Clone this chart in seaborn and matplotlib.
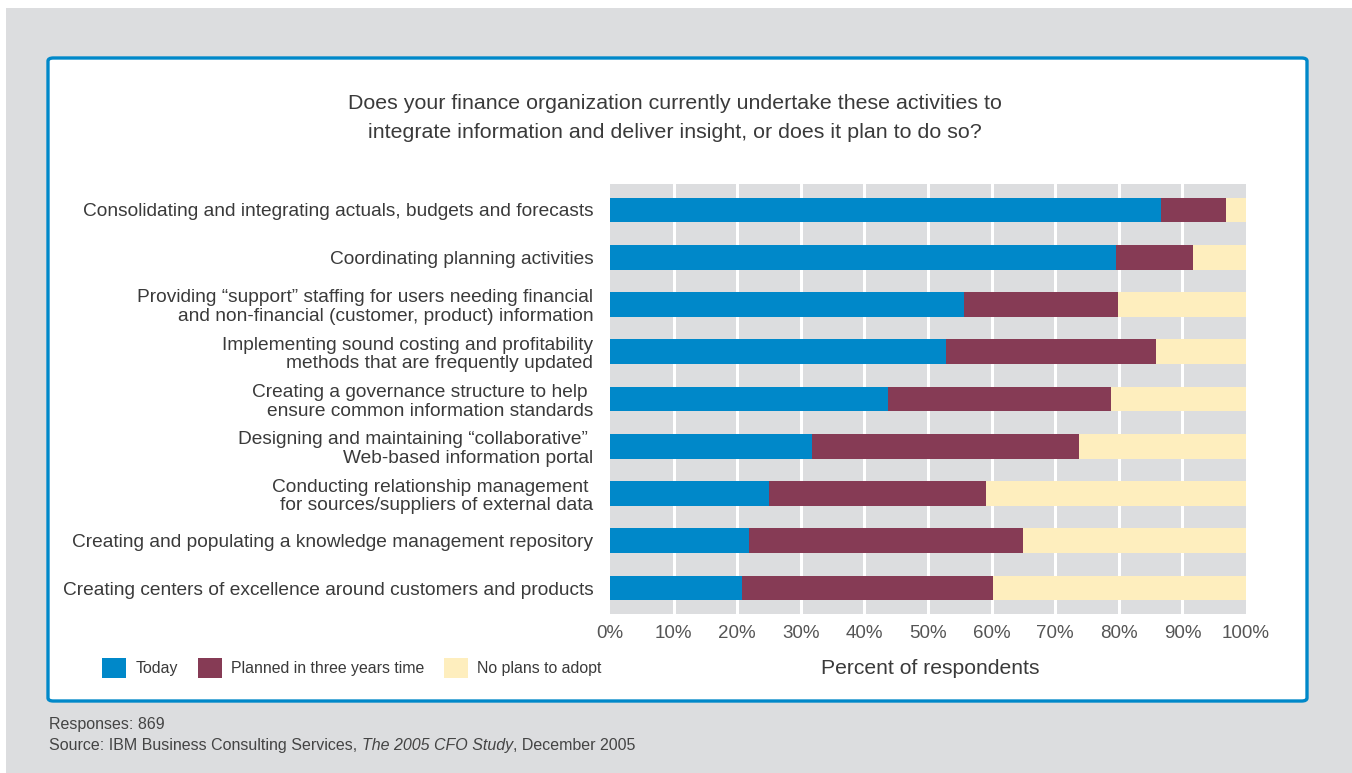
import matplotlib
matplotlib.use("Agg")
import matplotlib.pyplot as plt
import seaborn as sns
import pandas as pd
from matplotlib.patches import Patch, FancyBboxPatch, Rectangle

categories = [
    "Consolidating and integrating actuals, budgets and forecasts",
    "Coordinating planning activities",
    "Providing \u201csupport\u201d staffing for users needing financial\nand non-financial (customer, product) information",
    "Implementing sound costing and profitability\nmethods that are frequently updated",
    "Creating a governance structure to help \nensure common information standards",
    "Designing and maintaining \u201ccollaborative\u201d \nWeb-based information portal",
    "Conducting relationship management \nfor sources/suppliers of external data",
    "Creating and populating a knowledge management repository",
    "Creating centers of excellence around customers and products",
]
today = [86.6, 79.6, 55.6, 52.8, 43.7, 31.7, 25.0, 21.8, 20.8]
planned = [10.2, 12.1, 24.2, 33.1, 35.0, 42.0, 34.1, 43.1, 39.4]
no_plans = [3.2, 8.3, 20.2, 14.1, 21.3, 26.3, 40.9, 35.1, 39.8]
series_names = ["Today", "Planned in three years time", "No plans to adopt"]
xtick_values = [0, 10, 20, 30, 40, 50, 60, 70, 80, 90, 100]
xtick_labels = [f"{v}%" for v in xtick_values]

BLUE = "#0088C9"
MAROON = "#863B55"
YELLOW = "#FEEEBE"
GREY = "#DCDDDF"
TEXT = "#3a3a3a"

sns.set_theme(style="white")
plt.rcParams["font.family"] = ["Liberation Sans", "DejaVu Sans"]

df = pd.DataFrame({"cat": categories, "today": today, "planned": planned, "no": no_plans})
df["c2"] = df["today"] + df["planned"]
df["c3"] = df["c2"] + df["no"]

fig = plt.figure(figsize=(13.52, 7.73), dpi=100)
fig.patch.set_facecolor("white")
fig.patches.append(Rectangle((6 / 1352, 0), 1 - 6 / 1352, 1 - 8 / 773, transform=fig.transFigure,
                             facecolor=GREY, edgecolor="none", zorder=-10))
fig.patches.append(FancyBboxPatch((48 / 1352, 1 - 701 / 773), (1307 - 48) / 1352, (701 - 58) / 773,
                                  boxstyle="round,pad=0,rounding_size=0.004", transform=fig.transFigure,
                                  facecolor="white", edgecolor=BLUE, linewidth=2.4, zorder=-9))

ax = fig.add_axes([610 / 1352, 1 - 614 / 773, (1246 - 610) / 1352, (614 - 184) / 773])
ax.set_facecolor(GREY)

sns.barplot(data=df, x="c3", y="cat", color=YELLOW, width=0.52, orient="h", ax=ax, saturation=1,
            linewidth=0, zorder=3)
sns.barplot(data=df, x="c2", y="cat", color=MAROON, width=0.52, orient="h", ax=ax, saturation=1,
            linewidth=0, zorder=3)
sns.barplot(data=df, x="today", y="cat", color=BLUE, width=0.52, orient="h", ax=ax, saturation=1,
            linewidth=0, zorder=3)

ax.set_xlim(0, 100)
ax.set_ylim(8.55, -0.55)
ax.set_xticks(xtick_values)
ax.set_xticklabels(xtick_labels, fontsize=13.5, color="#555555")
ax.tick_params(axis="both", length=0)
ax.tick_params(axis="x", pad=8)
ax.tick_params(axis="y", pad=12)
for lbl in ax.get_yticklabels():
    lbl.set_fontsize(13.8)
    lbl.set_color(TEXT)
    lbl.set_linespacing(1.12)
for v in xtick_values[1:-1]:
    ax.axvline(v, color="white", linewidth=2.2, zorder=1)
for s in ax.spines.values():
    s.set_visible(False)
ax.set_xlabel("")
ax.set_ylabel("")

fig.text(930 / 1352, 1 - 668 / 773, "Percent of respondents", ha="center", va="center",
         fontsize=15.2, color=TEXT)

fig.text(675 / 1352, 1 - 118 / 773,
         "Does your finance organization currently undertake these activities to\n"
         "integrate information and deliver insight, or does it plan to do so?",
         ha="center", va="center", fontsize=15.4, color=TEXT, linespacing=1.68)

handles = [Patch(facecolor=c, edgecolor="none") for c in (BLUE, MAROON, YELLOW)]
fig.legend(handles, series_names, loc="center left", bbox_to_anchor=(88 / 1352, 1 - 668 / 773),
           ncol=3, frameon=False, fontsize=11.4, handlelength=1.5, handleheight=1.5,
           handletextpad=0.6, columnspacing=1.25, labelcolor=TEXT)

FS = 11.5
FC = "#444444"
fig.text(49 / 1352, 1 - 729 / 773, "Responses: 869", ha="left", va="baseline", fontsize=FS, color=FC)
t1 = fig.text(49 / 1352, 1 - 750 / 773, "Source: IBM Business Consulting Services, ", ha="left",
              va="baseline", fontsize=FS, color=FC)
fig.canvas.draw()
x2 = t1.get_window_extent().x1 / fig.bbox.width
t2 = fig.text(x2, 1 - 750 / 773, "The 2005 CFO Study", ha="left", va="baseline", fontsize=FS,
              color=FC, style="italic")
fig.canvas.draw()
x3 = t2.get_window_extent().x1 / fig.bbox.width
fig.text(x3, 1 - 750 / 773, ", December 2005", ha="left", va="baseline", fontsize=FS, color=FC)

fig.savefig("out.png", dpi=100)
